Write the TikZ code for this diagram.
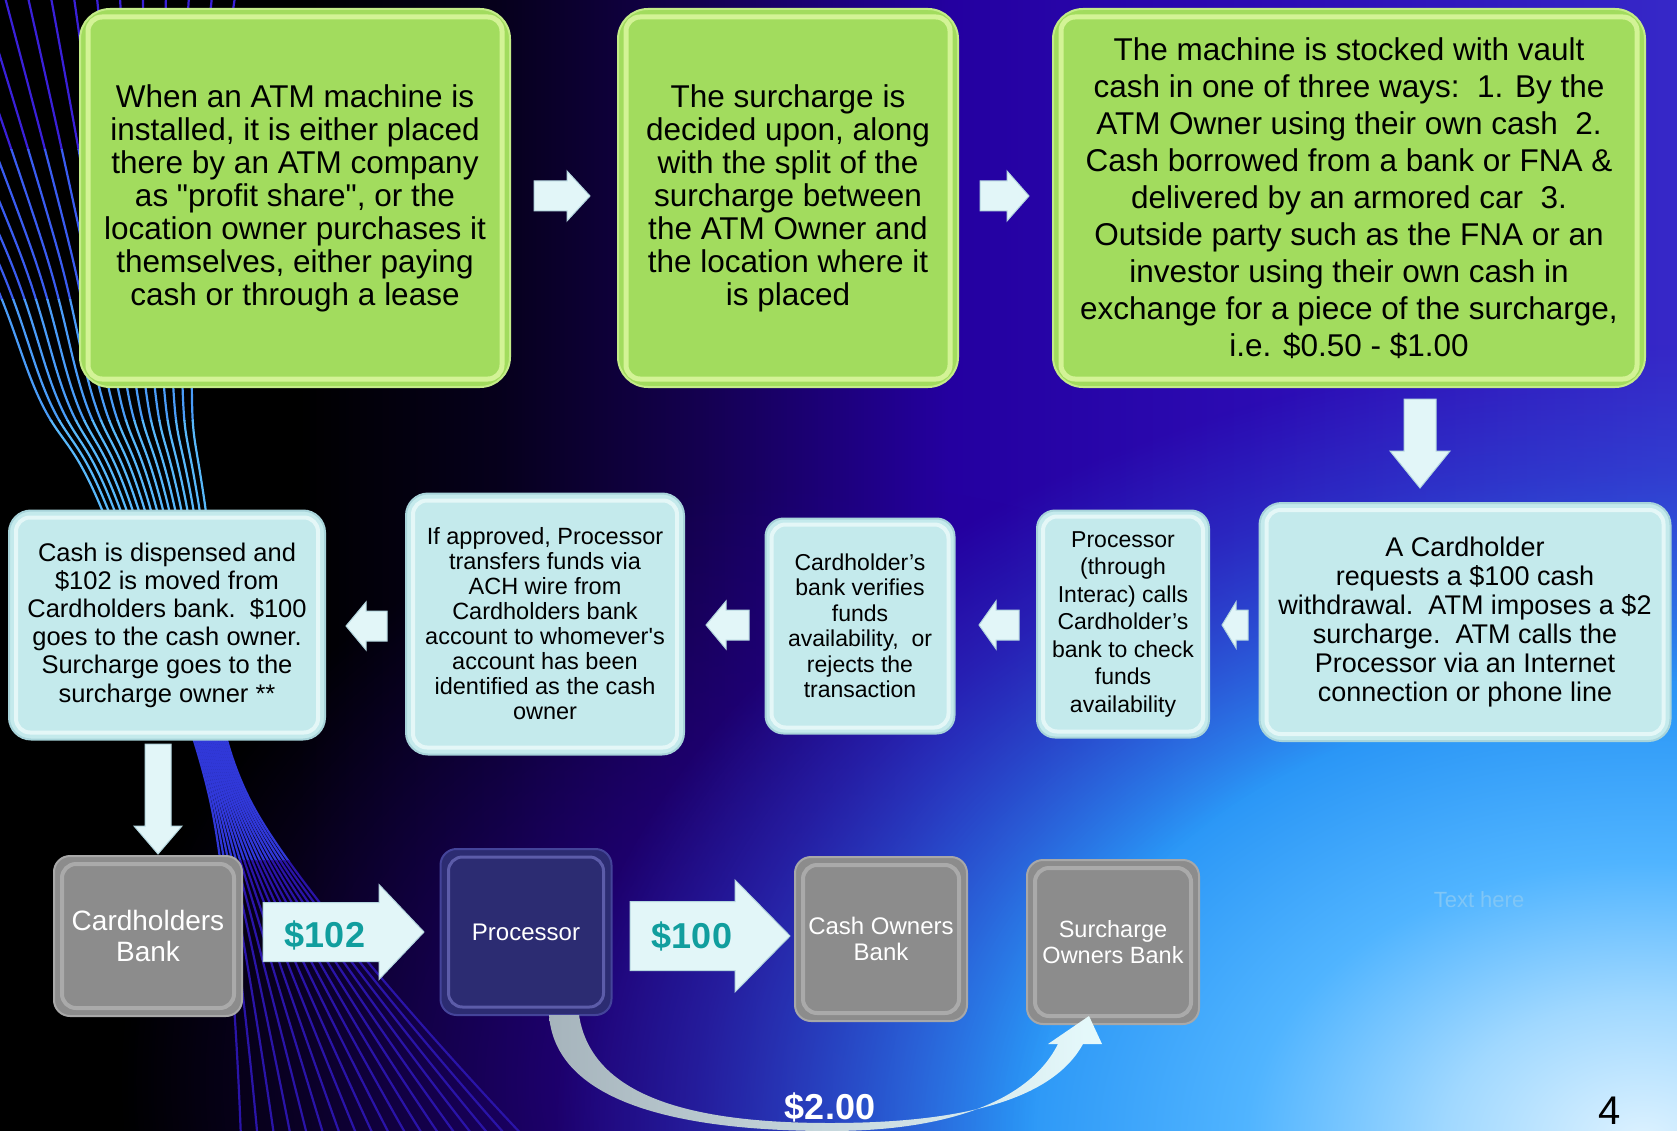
\documentclass[tikz,border=0pt]{standalone}
\usepackage{fontspec}
\setmainfont{Liberation Sans}
\usetikzlibrary{fadings}
\definecolor{grn}{HTML}{A2DC5E}
\definecolor{grnrim}{HTML}{C4EC88}
\definecolor{grnhi}{HTML}{E4FBAA}
\definecolor{cyb}{HTML}{C4EAEC}
\definecolor{cybrim}{HTML}{A8D4DA}
\definecolor{cybhi}{HTML}{F0FCFC}
\definecolor{gry}{HTML}{8C8C8C}
\definecolor{gryrim}{HTML}{A8A8A8}
\definecolor{gryhi}{HTML}{C8C8C8}
\definecolor{nvy}{HTML}{2C2C72}
\definecolor{nvyrim}{HTML}{44449A}
\definecolor{nvyhi}{HTML}{8C8CE0}
\definecolor{arw}{HTML}{E2F6F8}
\definecolor{arwrim}{HTML}{B4D6DE}
\definecolor{tealtxt}{HTML}{119E9E}
\definecolor{crvL}{HTML}{A6B4BC}
\definecolor{crvR}{HTML}{E6FAFC}
\definecolor{thtxt}{HTML}{80C6F6}
\definecolor{bgA}{HTML}{06001C}
\definecolor{bgB}{HTML}{140050}
\definecolor{bgC}{HTML}{2400A0}
\definecolor{bgD}{HTML}{2C0CB4}
\definecolor{bgE}{HTML}{3628C8}
\definecolor{pur}{HTML}{2A0098}
\definecolor{blA}{HTML}{DDF2FF}
\definecolor{blB}{HTML}{A0D8FF}
\definecolor{blC}{HTML}{50B4FF}
\definecolor{blD}{HTML}{2A96F6}
\definecolor{blE}{HTML}{2A60DE}
\definecolor{blF}{HTML}{2A40D0}
\definecolor{swA}{HTML}{3A20D8}
\definecolor{swB}{HTML}{3A5CF0}
\definecolor{swC}{HTML}{4A9CF8}
\definecolor{swD}{HTML}{58B8FA}
\definecolor{swE}{HTML}{3A70F0}
\definecolor{swF}{HTML}{3038D8}
\definecolor{swG}{HTML}{2A14A8}
\pgfdeclarehorizontalshading{bgh}{100bp}{color(0bp)=(black); color(25bp)=(black); color(33.9bp)=(black); color(39.9bp)=(bgA); color(45.9bp)=(bgB); color(53.3bp)=(bgC); color(63bp)=(bgD); color(75bp)=(bgE); color(100bp)=(bgE)}
\pgfdeclareradialshading{blobsh}{\pgfpointorigin}{color(0bp)=(blA); color(2.5bp)=(blB); color(5bp)=(blC); color(8bp)=(blD); color(12bp)=(blE); color(25bp)=(blF); color(50bp)=(blF)}
\pgfdeclareradialshading{blobfadesh}{\pgfpointorigin}{color(0bp)=(pgftransparent!0); color(8bp)=(pgftransparent!0); color(14bp)=(pgftransparent!100); color(50bp)=(pgftransparent!100)}
\pgfdeclarefading{blobfade}{\pgfuseshading{blobfadesh}}
\pgfdeclareradialshading{purfadesh}{\pgfpointorigin}{color(0bp)=(pgftransparent!30); color(8bp)=(pgftransparent!35); color(25bp)=(pgftransparent!100); color(50bp)=(pgftransparent!100)}
\pgfdeclarefading{purfade}{\pgfuseshading{purfadesh}}
\newcommand\bevl[5]{\draw[#2, line width=#4, rounded corners=14, opacity=#5] ([shift={(#3,#3)}]#1.north west) rectangle ([shift={(-#3,-#3)}]#1.south east);}
\newcommand\rarw[6]{\filldraw[blk] (#1,#4-#5) -- (#2,#4-#5) -- (#2,#4-#6) -- (#3,#4) -- (#2,#4+#6) -- (#2,#4+#5) -- (#1,#4+#5) -- cycle;}
\newcommand\darw[6]{\filldraw[blk] (#1-#2,#4) -- (#1+#2,#4) -- (#1+#2,#5) -- (#1+#3,#5) -- (#1,#6) -- (#1-#3,#5) -- (#1-#2,#5) -- cycle;}
\begin{document}
\begin{tikzpicture}[x=1pt,y=-1pt,
  gbox/.style={draw=grnrim, line width=2, fill=grn, rounded corners=30, align=center, inner sep=0, text=black},
  cbox/.style={draw=cybrim, line width=2, fill=cyb, rounded corners=22, align=center, inner sep=0, text=black},
  graybox/.style={draw=gryrim, line width=2, fill=gry, rounded corners=16, align=center, inner sep=0, text=white},
  navybox/.style={draw=nvyrim, line width=2, fill=nvy, rounded corners=16, align=center, inner sep=0, text=white},
  blk/.style={fill=arw, draw=arwrim, line width=1}]
\useasboundingbox (0,0) rectangle (1677,1131);
\clip (0,0) rectangle (1677,1131);
% background
\shade[shading=bgh] (0,0) rectangle (1677,1131);
\fill[pur, path fading=purfade] (820,1080) ellipse [x radius=700pt, y radius=600pt];
\shade[shading=blobsh, path fading=blobfade] (1677,1131) ellipse [x radius=2000pt, y radius=1400pt];
% swirl
\foreach \ya/\yb/\col in {-20/150/swA, 150/300/swB, 300/420/swC, 420/560/swD, 560/700/swE, 700/860/swF, 860/1140/swG}{
  \begin{scope}
    \clip (-200,\ya) rectangle (800,\yb);
    \foreach \i in {0,...,17}{
      \pgfmathsetmacro\t{\i/17}
      \draw[\col, line width=2.2] plot[smooth, tension=0.6] coordinates {({-160+396*\t},-10) ({-20+220*\t},250) ({40+152*\t},400) ({100+105*\t},505) ({210+40*\t},800) ({241+286*\t},1140)};
    }
  \end{scope}
}
% top row
\node[gbox, minimum width=430, minimum height=378, font=\fontsize{31.5}{33}\selectfont] (g1) at (295,198) {When an ATM machine is\\installed, it is either placed\\there by an ATM company\\as \textquotedbl profit share\textquotedbl, or the\\location owner purchases it\\themselves, either paying\\cash or through a lease};
\node[gbox, minimum width=340, minimum height=378, font=\fontsize{31.5}{33}\selectfont] (g2) at (788,198) {The surcharge is\\decided upon, along\\with the split of the\\surcharge between\\the ATM Owner and\\the location where it\\is placed};
\node[gbox, minimum width=592, minimum height=378, font=\fontsize{31.5}{37}\selectfont] (g3) at (1349,198) {The machine is stocked with vault\\cash in one of three ways:\ \ 1. By the\\ATM Owner using their own cash\ \ 2.\\Cash borrowed from a bank or FNA \&\\delivered by an armored car\ \ 3.\\Outside party such as the FNA or an\\investor using their own cash in\\exchange for a piece of the surcharge,\\i.e. \$0.50 - \$1.00};
\bevl{g1}{grnhi}{9}{5}{.75}
\bevl{g2}{grnhi}{9}{5}{.75}
\bevl{g3}{grnhi}{9}{5}{.75}
% middle row
\node[cbox, minimum width=411, minimum height=238, font=\fontsize{27}{29}\selectfont] (c1) at (1465,622) {A Cardholder\\requests a \$100 cash\\withdrawal.\ \ ATM imposes a \$2\\surcharge.\ \ ATM calls the\\Processor via an Internet\\connection or phone line};
\node[cbox, minimum width=172, minimum height=227, rounded corners=18, font=\fontsize{23}{27.5}\selectfont] (c2) at (1123,624) {Processor\\(through\\Interac) calls\\Cardholder’s\\bank to check\\funds\\availability};
\node[cbox, minimum width=189, minimum height=215, rounded corners=18, font=\fontsize{23}{25.5}\selectfont] (c3) at (860,626) {Cardholder’s\\bank verifies\\funds\\availability,\ \ or\\rejects the\\transaction};
\node[cbox, minimum width=278, minimum height=261, font=\fontsize{23.5}{25}\selectfont] (c4) at (545,624) {If approved, Processor\\transfers funds via\\ACH wire from\\Cardholders bank\\account to whomever\textquotesingle s\\account has been\\identified as the cash\\owner};
\node[cbox, minimum width=316, minimum height=229, font=\fontsize{25.5}{28.2}\selectfont] (c5) at (167,625) {Cash is dispensed and\\\$102 is moved from\\Cardholders bank.\ \ \$100\\goes to the cash owner.\\Surcharge goes to the\\surcharge owner **};
\bevl{c1}{cybhi}{8}{4}{.75}
\bevl{c2}{cybhi}{7}{4}{.75}
\bevl{c3}{cybhi}{7}{4}{.75}
\bevl{c4}{cybhi}{8}{4}{.75}
\bevl{c5}{cybhi}{8}{4}{.75}
% bottom row
\node[graybox, minimum width=188, minimum height=160, font=\fontsize{28}{31}\selectfont] (b1) at (148,936) {Cardholders\\Bank};
\node[navybox, minimum width=171, minimum height=166, font=\fontsize{24}{26}\selectfont] (b2) at (526,932) {Processor};
\node[graybox, minimum width=172, minimum height=164, font=\fontsize{24}{26}\selectfont] (b3) at (881,939) {Cash Owners\\Bank};
\node[graybox, minimum width=172, minimum height=164, font=\fontsize{23.5}{26}\selectfont] (b4) at (1113,942) {Surcharge\\Owners Bank};
\bevl{b1}{gryhi}{9}{4}{.5}
\bevl{b2}{nvyhi}{9}{3}{.5}
\bevl{b3}{gryhi}{9}{4}{.5}
\bevl{b4}{gryhi}{9}{4}{.5}
% block arrows
\rarw{534}{567}{590}{196}{15}{25}
\rarw{980}{1007}{1029}{196}{15}{25}
\darw{1420}{16}{30}{399}{451}{488}
\rarw{1248}{1236}{1222}{625}{15}{23}
\rarw{1019}{996}{979}{625}{15}{24}
\rarw{749}{726}{706}{625}{15}{24}
\rarw{387}{366}{346}{626}{15}{24}
\darw{158}{13}{24}{744}{826}{854}
\rarw{263}{379}{424}{932}{29.5}{47.5}
\rarw{630}{735}{790}{936}{34.5}{56}
\node[font=\bfseries\fontsize{36}{36}\selectfont, text=tealtxt] (l102) at (325,935) {\$102};
\node[font=\bfseries\fontsize{36}{36}\selectfont, text=tealtxt] (l100) at (692,936) {\$100};
% curved arrow processor -> surcharge owners bank
\shade[left color=crvL, right color=crvR] (549,1015) .. controls (556,1110) and (700,1131) .. (830,1131) .. controls (950,1131) and (1030,1100) .. (1058,1044) -- (1048,1044) -- (1089,1016) -- (1102,1044) -- (1083,1044) .. controls (1050,1104) and (950,1123) .. (830,1123) .. controls (700,1123) and (592,1100) .. (579,1015) -- cycle;
\node[font=\bfseries\fontsize{36}{36}\selectfont, text=white] (l2) at (830,1107) {\$2.00};
\node[font=\fontsize{22}{22}\selectfont, text=thtxt] (th) at (1479,900) {Text here};
\node[anchor=base, inner sep=0, font=\fontsize{40}{40}\selectfont, text=black] (pg) at (1610,1124) {4};
\end{tikzpicture}
\end{document}
